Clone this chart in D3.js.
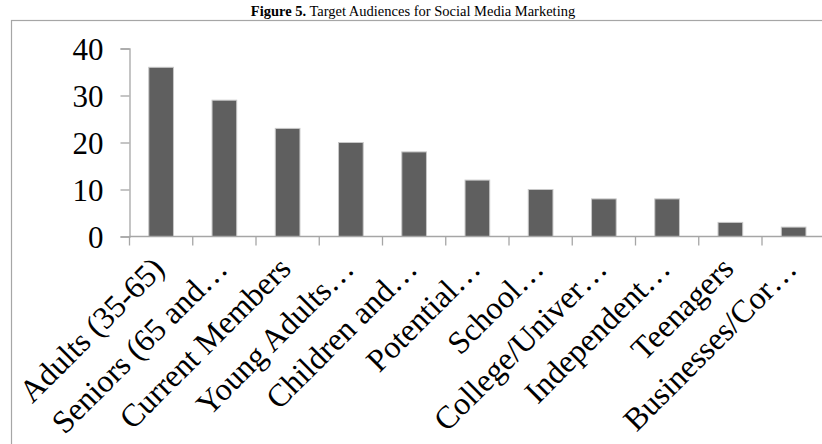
<!DOCTYPE html>
<html>
<head>
<meta charset="UTF-8"/>
<style>
  body { margin: 0; background: #fff; }
  svg { display: block; }
  text { font-family: "Liberation Serif", "Times New Roman", serif; fill: #000; }
  .axis path, .axis line { stroke: #a6a6a6; stroke-width: 1.3; }
  .bar { fill: #5f5f5f; stroke: #c8c8c8; stroke-width: 1; }
</style>
</head>
<body>
<svg width="822" height="444"></svg>
<script src="https://d3js.org/d3.v7.min.js"></script>
<script>
const categories = ['Adults (35-65)', 'Seniors (65 and\u2026', 'Current Members', 'Young Adults\u2026',
  'Children and\u2026', 'Potential\u2026', 'School\u2026', 'College/Univer\u2026', 'Independent\u2026',
  'Teenagers', 'Businesses/Cor\u2026'];
const values = [36, 29, 23, 20, 18, 12, 10, 8, 8, 3, 2];
const yTicks = [0, 10, 20, 30, 40];

const svg = d3.select('svg');

// title
const title = svg.append('text')
  .attr('x', 413)
  .attr('y', 16)
  .attr('text-anchor', 'middle')
  .style('font-size', '14.5px');
title.append('tspan').style('font-weight', 'bold').text('Figure 5.');
title.append('tspan').text(' Target Audiences for Social Media Marketing');

// chart border
svg.append('rect')
  .attr('x', 11.5).attr('y', 20.5)
  .attr('width', 830).attr('height', 440)
  .attr('fill', 'none')
  .attr('stroke', '#a6a6a6')
  .attr('stroke-width', 1.2);

const x0 = 129.5, x1 = x0 + 63.25 * 11;
const yScale = d3.scaleLinear().domain([0, 40]).range([236.5, 48.5]);
const xScale = d3.scaleBand().domain(categories).range([x0, x1]).paddingInner(0.61).paddingOuter(0.305);

// y axis
const yAxis = svg.append('g')
  .attr('class', 'axis')
  .attr('transform', `translate(${x0},0)`)
  .call(d3.axisLeft(yScale).tickValues(yTicks).tickSize(9).tickPadding(17).tickSizeOuter(9));
yAxis.selectAll('text').style('font-size', '31px').attr('dy', '0.34em');

// bars
svg.selectAll('.bar')
  .data(values)
  .enter()
  .append('rect')
  .attr('class', 'bar')
  .attr('x', (d, i) => xScale(categories[i]))
  .attr('y', d => yScale(d))
  .attr('width', xScale.bandwidth())
  .attr('height', d => yScale(0) - yScale(d));

// x axis: line + ticks at band edges
const xg = svg.append('g').attr('class', 'axis');
xg.append('line')
  .attr('x1', x0).attr('x2', x1)
  .attr('y1', yScale(0)).attr('y2', yScale(0));
const step = xScale.step();
xg.selectAll('.xt')
  .data(d3.range(categories.length + 1))
  .enter()
  .append('line')
  .attr('x1', i => x0 + i * step).attr('x2', i => x0 + i * step)
  .attr('y1', yScale(0)).attr('y2', yScale(0) + 9);

// rotated labels
svg.selectAll('.xl')
  .data(categories)
  .enter()
  .append('text')
  .attr('class', 'xl')
  .attr('text-anchor', 'end')
  .style('font-size', '32px')
  .attr('transform', d => `translate(${xScale(d) + xScale.bandwidth() / 2 + 5},${yScale(0) + 34}) rotate(-45)`)
  .text(d => d);
</script>
</body>
</html>
